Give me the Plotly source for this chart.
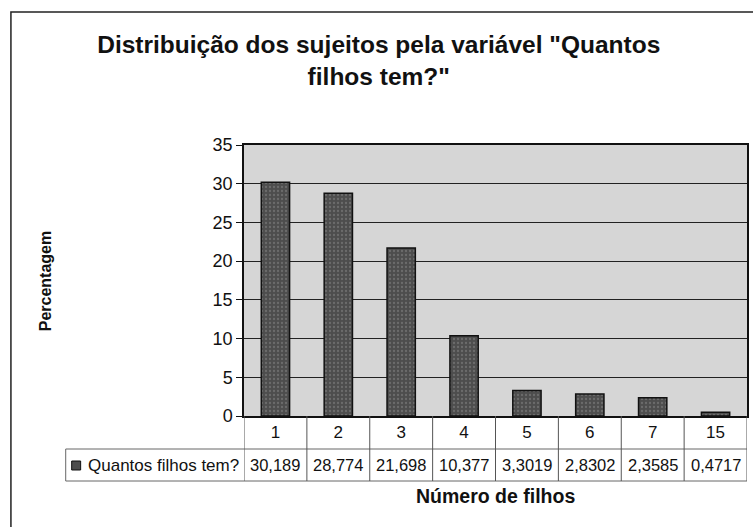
import plotly.graph_objects as go

categorias = ["1", "2", "3", "4", "5", "6", "7", "15"]
percentagem = [30.189, 28.774, 21.698, 10.377, 3.3019, 2.8302, 2.3585, 0.4717]
serie_nome = "Quantos filhos tem?"
titulo = 'Distribuição dos sujeitos pela variável "Quantos<br>filhos tem?"'
y_ticks = [0, 5, 10, 15, 20, 25, 30, 35]

FONT = "Liberation Sans, Arial, sans-serif"

# pixel helpers (plot area is 244..749 x, 145..416 y)
L, R, T, B = 244, 749, 145, 416
def px(x):
    return (x - L) / (R - L)
def py(y):
    return (B - y) / (B - T)

fig = go.Figure()
fig.add_trace(go.Bar(
    x=categorias, y=percentagem, name=serie_nome, width=0.45,
    marker=dict(color="#4d4d4d", line=dict(color="#111", width=1.5),
                pattern=dict(shape=".", fgcolor="#8a8a8a", size=4, solidity=0.25)),
    showlegend=False,
))

shapes = []
# outer chart border
shapes.append(dict(type="rect", xref="paper", yref="paper", x0=px(10), x1=px(770),
                   y0=py(560), y1=py(12), line=dict(color="#222", width=1.5)))
# data table lines
shapes.append(dict(type="line", xref="paper", yref="paper", x0=px(65), x1=1,
                   y0=py(449), y1=py(449), line=dict(color="#666", width=1)))
shapes.append(dict(type="line", xref="paper", yref="paper", x0=px(65), x1=1,
                   y0=py(481), y1=py(481), line=dict(color="#666", width=1)))
shapes.append(dict(type="line", xref="paper", yref="paper", x0=px(65), x1=px(65),
                   y0=py(449), y1=py(481), line=dict(color="#666", width=1)))
for i in range(len(categorias) + 1):
    shapes.append(dict(type="line", xref="x", yref="paper", x0=i - 0.5, x1=i - 0.5,
                       y0=0, y1=py(481), line=dict(color="#555", width=1)))
# legend key
shapes.append(dict(type="rect", xref="paper", yref="paper", x0=px(71), x1=px(80),
                   y0=py(470), y1=py(461), fillcolor="#4d4d4d", line=dict(color="#111", width=1)))

annotations = []
for i, v in enumerate(percentagem):
    annotations.append(dict(x=i, xref="x", y=py(465), yref="paper", text=str(v).replace(".", ","),
                            xanchor="center", yanchor="middle", showarrow=False,
                            font=dict(size=16.5, color="#111", family=FONT)))
annotations.append(dict(x=px(85), xref="paper", y=py(465), yref="paper", text=serie_nome,
                        xanchor="left", yanchor="middle", showarrow=False,
                        font=dict(size=17, color="#111", family=FONT)))
annotations.append(dict(x=px(496), xref="paper", y=py(496), yref="paper", text="<b>Número de filhos</b>",
                        xanchor="center", yanchor="middle", showarrow=False,
                        font=dict(size=19.5, color="#111", family=FONT)))
annotations.append(dict(x=px(45), xref="paper", y=0.5, yref="paper", text="<b>Percentagem</b>",
                        xanchor="center", yanchor="middle", textangle=-90, showarrow=False,
                        font=dict(size=16, color="#111", family=FONT)))

fig.update_layout(
    width=753, height=527,
    margin=dict(l=L, r=753 - R, t=T, b=527 - B),
    paper_bgcolor="white", plot_bgcolor="#d6d6d6",
    title=dict(text="<b>" + titulo + "</b>", x=0.503, xanchor="center", y=1 - 53 / 527, yanchor="top",
               font=dict(size=24.5, color="#111", family=FONT)),
    font=dict(family=FONT, color="#111"),
    shapes=shapes, annotations=annotations,
)
fig.update_xaxes(type="category", range=[-0.5, len(categorias) - 0.5], showline=True, linecolor="#111",
                 linewidth=1.5, mirror=True, ticks="", showgrid=False, tickfont=dict(size=17),
                 ticklabelstandoff=0)
fig.update_yaxes(range=[0, 35], tickvals=y_ticks, showline=True, linecolor="#111", linewidth=1.5, mirror=True,
                 ticks="outside", ticklen=6, tickcolor="#111", showgrid=True, gridcolor="#222", gridwidth=1,
                 tickfont=dict(size=18), zeroline=False)

fig.write_html("out.html", config={"displayModeBar": False},
               post_script="document.body.style.margin='0';")
